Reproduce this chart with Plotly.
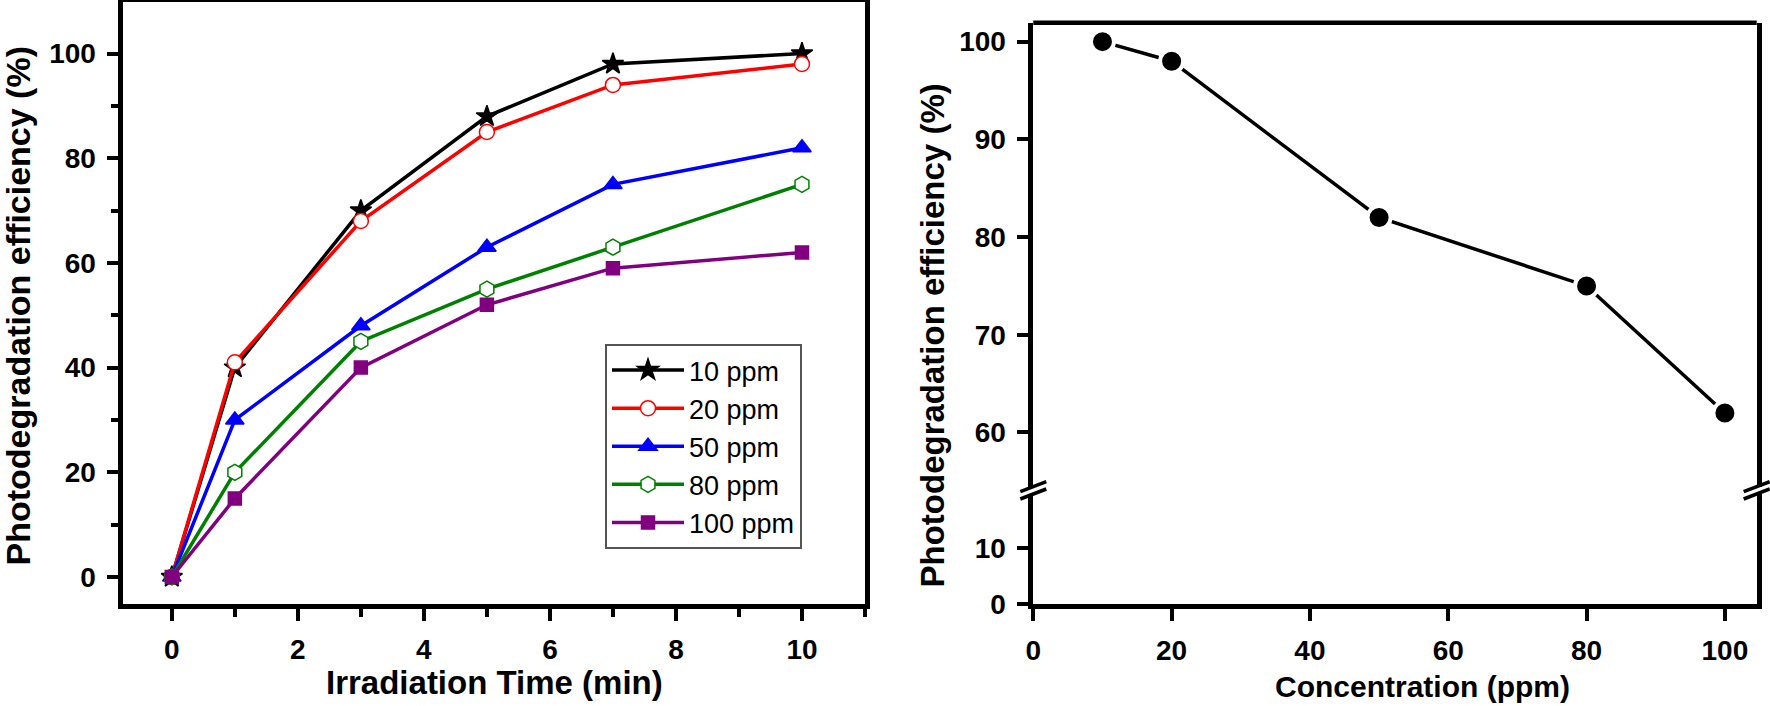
import plotly.graph_objects as go

# irradiation time series (left panel)
time_min = [0, 1, 3, 5, 7, 10]
series_names = ['10 ppm', '20 ppm', '50 ppm', '80 ppm', '100 ppm']
eff_10 = [0, 40, 70, 88, 98, 100]
eff_20 = [0, 41, 68, 85, 94, 98]
eff_50 = [0, 30, 48, 63, 75, 82]
eff_80 = [0, 20, 45, 55, 63, 75]
eff_100 = [0, 15, 40, 52, 59, 62]

# efficiency vs concentration (right panel)
conc_ppm = [10, 20, 50, 80, 100]
eff_final = [100, 98, 82, 75, 62]

W, H = 1770, 706
FONT = 'Liberation Sans, Arial, sans-serif'


def px(x):
    return x / W


def py(y):
    return 1 - y / H


styles = [
    dict(color='black', symbol='star', size=16, fill='black'),
    dict(color='#ff0000', symbol='circle', size=15, fill='white'),
    dict(color='#0000ff', symbol='triangle-up', size=16, fill='#0000ff'),
    dict(color='#008000', symbol='hexagon', size=16, fill='white'),
    dict(color='#800080', symbol='square', size=13, fill='#800080'),
]

fig = go.Figure()
for name, ys, st in zip(series_names, [eff_10, eff_20, eff_50, eff_80, eff_100], styles):
    fig.add_trace(go.Scatter(
        x=time_min, y=ys, name=name, mode='lines+markers',
        line=dict(color=st['color'], width=3.5),
        marker=dict(symbol=st['symbol'], size=st['size'], color=st['fill'],
                    line=dict(color=st['color'], width=1.5)),
        xaxis='x', yaxis='y'))

fig.add_trace(go.Scatter(
    x=conc_ppm, y=eff_final, mode='lines+markers', showlegend=False,
    line=dict(color='black', width=3.5),
    marker=dict(symbol='circle', size=23, color='black', line=dict(color='white', width=4)),
    xaxis='x2', yaxis='y2'))
# empty trace so the lower (broken) segment of the axis is drawn
fig.add_trace(go.Scatter(x=[], y=[], showlegend=False, hoverinfo='skip', xaxis='x2', yaxis='y3'))

tick_font = dict(family=FONT, size=28, color='black', weight='bold')
axis_common = dict(showline=True, linewidth=4.5, linecolor='black', ticks='outside',
                   ticklen=12, tickwidth=3.5, tickcolor='black', showgrid=False,
                   zeroline=False, tickfont=tick_font, ticklabelstandoff=5,
                   automargin=False)

fig.update_layout(
    width=W, height=H, margin=dict(l=0, r=0, t=0, b=0, autoexpand=False),
    paper_bgcolor='white', plot_bgcolor='white',
    showlegend=True,
    legend=dict(x=px(605), y=py(344), xanchor='left', yanchor='top',
                font=dict(family=FONT, size=27, color='black'),
                bordercolor='#555555', borderwidth=2, bgcolor='white',
                itemwidth=72),
    xaxis=dict(domain=[px(123.3), px(865)], range=[-0.77, 11.0], anchor='y',
               tickvals=[0, 2, 4, 6, 8, 10], mirror=True,
               minor=dict(dtick=1, tick0=0, ticks='outside', ticklen=8, tickwidth=3.5, tickcolor='black'),
               **axis_common),
    yaxis=dict(domain=[py(604), py(1.7)], range=[-5.16, 109.9], anchor='x',
               tickvals=[0, 20, 40, 60, 80, 100], mirror=True,
               minor=dict(dtick=10, tick0=0, ticks='outside', ticklen=8, tickwidth=3.5, tickcolor='black'),
               **axis_common),
    xaxis2=dict(domain=[px(1033.3), px(1756.7)], range=[0, 104.6], anchor='y3',
                tickvals=[0, 20, 40, 60, 80, 100], **axis_common),
    yaxis2=dict(domain=[py(486.7), py(22.7)], range=[54.45, 101.94], anchor='x2',
                tickvals=[60, 70, 80, 90, 100], mirror=True, **axis_common),
    yaxis3=dict(domain=[py(604.3), py(494)], range=[0, 19.7], anchor='x2',
                tickvals=[0, 10], mirror=True, **axis_common),
)

shapes = [
    # top frame line of the right panel
    dict(type='line', xref='x2 domain', yref='y2 domain', x0=0, x1=1, y0=1, y1=1,
         line=dict(color='black', width=4.5)),
]
# axis-break marks on both sides of the right panel
for ax in (1033.3, 1756.7):
    for yc in (486.7, 494):
        shapes.append(dict(type='line', xref='paper', yref='paper',
                           x0=px(ax - 13), y0=py(yc + 5), x1=px(ax + 13), y1=py(yc - 5),
                           line=dict(color='black', width=3.5)))
fig.update_layout(shapes=shapes)


def title_font(size):
    return dict(family=FONT, size=size, color='black', weight='bold')


fig.update_layout(annotations=[
    dict(text='Irradiation Time (min)', x=px(494), y=py(682), xref='paper', yref='paper',
         showarrow=False, font=title_font(33), xanchor='center', yanchor='middle'),
    dict(text='Photodegradation efficiency (%)', x=px(17.5), y=py(306), xref='paper', yref='paper',
         showarrow=False, font=title_font(34), textangle=-90, xanchor='center', yanchor='middle'),
    dict(text='Concentration (ppm)', x=px(1422), y=py(686), xref='paper', yref='paper',
         showarrow=False, font=title_font(30), xanchor='center', yanchor='middle'),
    dict(text='Photodegradation efficiency (%)', x=px(932), y=py(335.5), xref='paper', yref='paper',
         showarrow=False, font=title_font(33), textangle=-90, xanchor='center', yanchor='middle'),
])

# the page body has a default 8px margin; remove it so the figure fills the window
fig.write_html('out.html', config={'displayModeBar': False},
               post_script="document.body.style.margin='0px';")
